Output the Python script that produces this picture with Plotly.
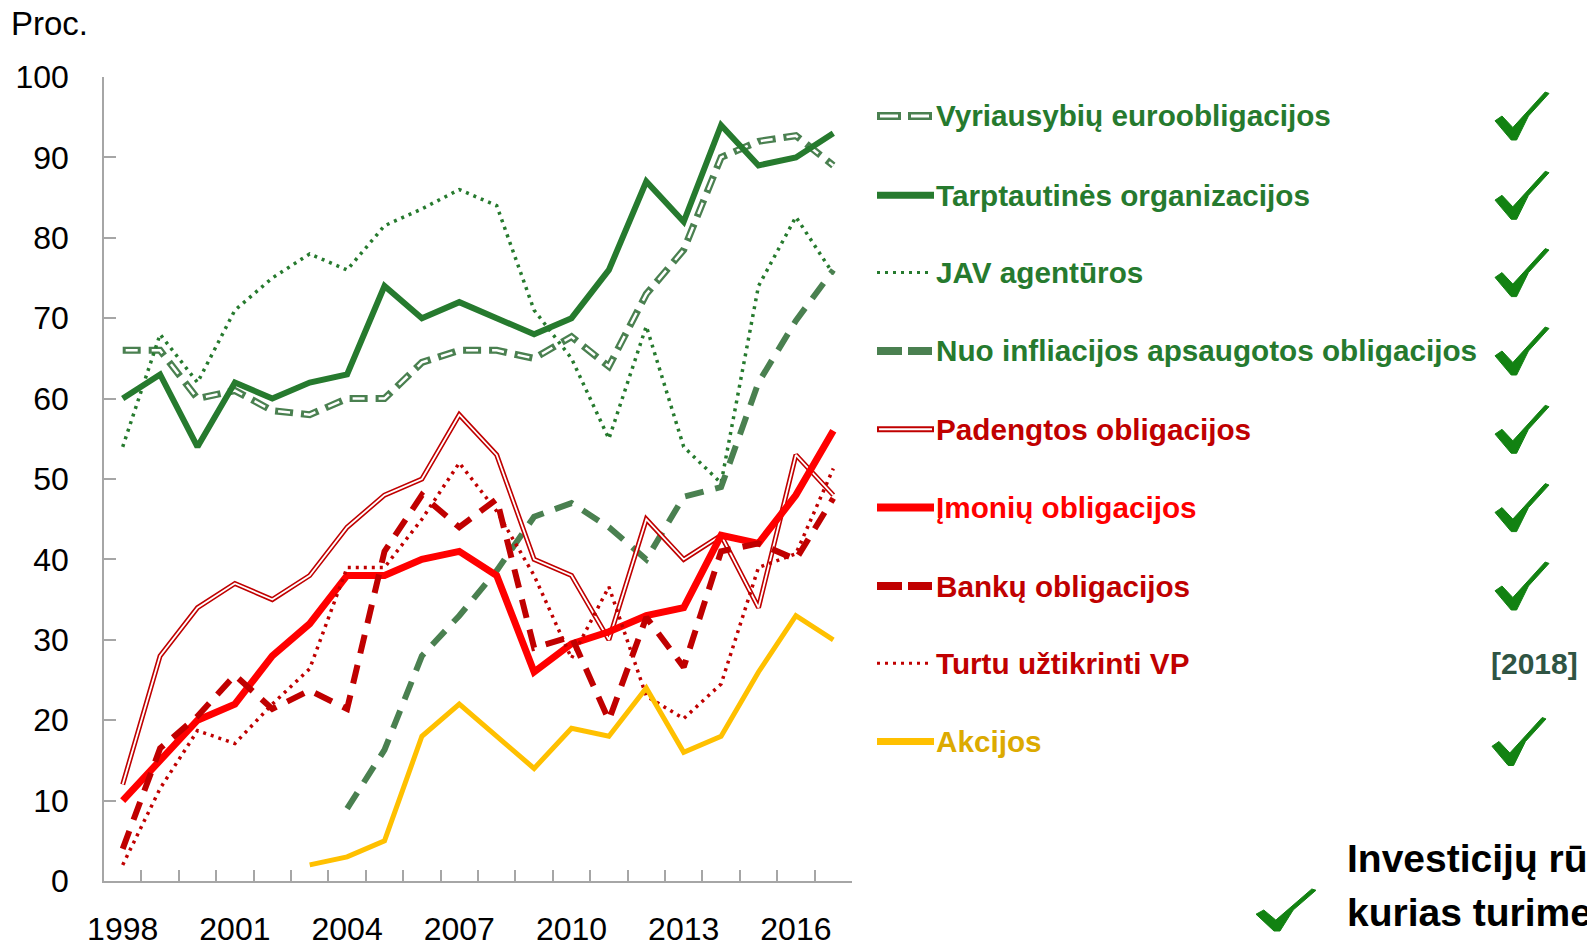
import plotly.graph_objects as go

years = list(range(1998, 2018))
tick_years = [1998, 2001, 2004, 2007, 2010, 2013, 2016]

vyriausybiu = [66, 66, 60, 61, 58.5, 58, 60, 60, 64.5, 66, 66, 65, 67.7, 64, 73, 78.5, 90, 92, 92.7, 89]
tarptautines = [60, 63, 54, 62, 60, 62, 63, 74, 70, 72, 70, 68, 70, 76, 87, 82, 94, 89, 90, 93]
jav = [54, 68, 62, 71, 75, 78, 76, 81.5, 83.6, 86, 84, 71, 65, 55, 69, 54, 49.5, 74, 82.6, 75.5]
nuo_infl = [None] * 6 + [9, 16.3, 28, 33, 38.6, 45.3, 47, 44, 40, 47.8, 49, 62, 69.7, 76]
padengtos = [12, 28, 34, 37, 35, 38, 44, 48, 50, 58, 53, 40, 38, 30, 45, 40, 43, 34, 53, 48]
imoniu = [10, 15, 20, 22, 28, 32, 38, 38, 40, 41, 38, 26, 29.5, 31, 33, 34, 43, 42, 48, 56]
banku = [4, 16.5, 20.5, 25.6, 21.4, 23.7, 21.4, 41, 48, 44, 47.5, 29, 30.4, 20, 32.8, 26.6, 41, 42, 40, 47.6]
turtu = [2, 11.5, 18.7, 17.1, 22, 26.4, 39, 39, 45, 52, 46, 38, 27.7, 36.6, 23, 20.2, 24.5, 39, 40.7, 51.3]
akcijos = [None] * 5 + [2, 3, 5, 18, 22, 18, 14, 19, 18, 24, 16, 18, 26, 33, 30]

labels = ["Vyriausybių euroobligacijos", "Tarptautinės organizacijos", "JAV agentūros",
          "Nuo infliacijos apsaugotos obligacijos", "Padengtos obligacijos", "Įmonių obligacijos",
          "Bankų obligacijos", "Turtu užtikrinti VP", "Akcijos"]

GREEN = "#267a2e"
GREEN2 = "#4a8050"
DRED = "#c00000"
RED = "#ff0000"
YEL = "#ffc000"
YEL_TXT = "#dcaa00"

# target page geometry (page pixels); the page body has an 8px margin
OFF = 8
PW, PH = 1595, 949
W, H = PW - OFF, PH - OFF
L, R, T, B = 104, 852, 77, 881
FONT = "Liberation Sans, Arial, sans-serif"


def px(x):
    return (x - L) / (R - L)


def py(y):
    return (B - y) / (B - T)


fig = go.Figure()


def add(y, color, width, dash="solid"):
    fig.add_trace(go.Scatter(x=years, y=y, mode="lines",
                             line=dict(color=color, width=width, dash=dash),
                             showlegend=False, hoverinfo="skip", connectgaps=False))


add(vyriausybiu, GREEN2, 7, "18px,8px")
add(vyriausybiu, "white", 2.5, "0px,3px,12px,11px")
add(tarptautines, GREEN, 6)
add(jav, GREEN, 3.5, "3px,5px")
add(nuo_infl, GREEN2, 6, "19px,12px")
add(padengtos, DRED, 5)
add(padengtos, "white", 1.8)
add(imoniu, RED, 7)
add(banku, DRED, 6, "19px,12px")
add(turtu, DRED, 3.5, "3px,5px")
add(akcijos, YEL, 5)

shapes = []
annotations = []

rows_y = [116, 195.3, 272.6, 351, 429.3, 507.6, 586, 663.2, 741.5]
text_cols = [GREEN, GREEN, GREEN, GREEN, DRED, RED, DRED, DRED, YEL_TXT]


def seg(x0, x1, y, color, width, dash="solid"):
    shapes.append(dict(type="line", xref="paper", yref="paper",
                       x0=px(x0), x1=px(x1), y0=py(y), y1=py(y),
                       line=dict(color=color, width=width, dash=dash), layer="above"))


for lab, col, ry in zip(labels, text_cols, rows_y):
    annotations.append(dict(xref="paper", yref="paper", x=px(934), y=py(ry),
                            xanchor="left", yanchor="middle", showarrow=False,
                            text=lab, font=dict(family=FONT, size=29.7, color=col, weight="bold")))

r = rows_y
seg(877, 901, r[0], GREEN2, 8); seg(880, 898, r[0], "white", 3)
seg(908, 932, r[0], GREEN2, 8); seg(911, 929, r[0], "white", 3)
seg(877, 934, r[1], GREEN, 7)
seg(877, 932, r[2], GREEN, 3, "3px,5px")
seg(877, 902, r[3], GREEN2, 8); seg(908, 932, r[3], GREEN2, 8)
seg(877, 934, r[4], DRED, 6); seg(879, 932, r[4], "white", 2)
seg(877, 934, r[5], RED, 8)
seg(877, 902, r[6], DRED, 8); seg(908, 932, r[6], DRED, 8)
seg(877, 932, r[7], DRED, 3, "3px,5px")
seg(877, 934, r[8], YEL, 7)


def check(x0, yc, w, h, color="#128212"):
    y0 = yc - h / 2
    pts = [(0.00, 0.60), (0.13, 0.50), (0.33, 0.74), (0.93, 0.00), (1.00, 0.03),
           (0.62, 0.50), (0.40, 1.00), (0.30, 1.00)]
    d = "M " + " L ".join(f"{px(x0 + a * w):.5f},{py(y0 + b * h):.5f}" for a, b in pts) + " Z"
    shapes.append(dict(type="path", xref="paper", yref="paper", path=d,
                       fillcolor=color, line=dict(color=color, width=1), layer="above"))


for i, ry in enumerate(rows_y):
    if i == 7:
        continue
    xoff = 1492 if i == 8 else 1495
    check(xoff, ry, 54, 48)

annotations.append(dict(xref="paper", yref="paper", x=px(1489), y=py(663),
                        xanchor="left", yanchor="middle", showarrow=False,
                        text="[2018]", font=dict(family=FONT, size=30, color="#2f5443", weight="bold")))

check(1256, 910, 60, 42)
annotations.append(dict(xref="paper", yref="paper", x=px(1345), y=py(858),
                        xanchor="left", yanchor="middle", showarrow=False,
                        text="Investicijų rūšys,",
                        font=dict(family=FONT, size=39, color="black", weight="bold")))
annotations.append(dict(xref="paper", yref="paper", x=px(1345), y=py(912),
                        xanchor="left", yanchor="middle", showarrow=False,
                        text="kurias turime",
                        font=dict(family=FONT, size=39, color="black", weight="bold")))

annotations.append(dict(xref="paper", yref="paper", x=px(9), y=py(24),
                        xanchor="left", yanchor="middle", showarrow=False,
                        text="Proc.", font=dict(family=FONT, size=33, color="black")))

fig.update_layout(
    width=W, height=H,
    margin=dict(l=L - OFF, r=W - (R - OFF), t=T - OFF, b=H - (B - OFF), pad=0, autoexpand=False),
    plot_bgcolor="white", paper_bgcolor="white",
    shapes=shapes, annotations=annotations,
    xaxis=dict(range=[1997.5, 2017.5], tickvals=tick_years, ticktext=[str(t) for t in tick_years],
               ticks="inside", ticklen=0, showline=True, linecolor="#a6a6a6", linewidth=1.5,
               showgrid=False, zeroline=False, ticklabelstandoff=19, automargin=False,
               tickfont=dict(family=FONT, size=32, color="black"),
               minor=dict(tickvals=[1997.5 + k for k in range(21)], ticks="inside", ticklen=11,
                          tickcolor="#a6a6a6", tickwidth=1.5, showgrid=False)),
    yaxis=dict(range=[0, 100], dtick=10, ticks="inside", ticklen=12, tickcolor="#a6a6a6", tickwidth=1.5,
               showline=True, linecolor="#a6a6a6", linewidth=1.5, showgrid=False, zeroline=False,
               ticklabelstandoff=27, automargin=False,
               tickfont=dict(family=FONT, size=32, color="black")),
)

fig.write_html("out.html")
